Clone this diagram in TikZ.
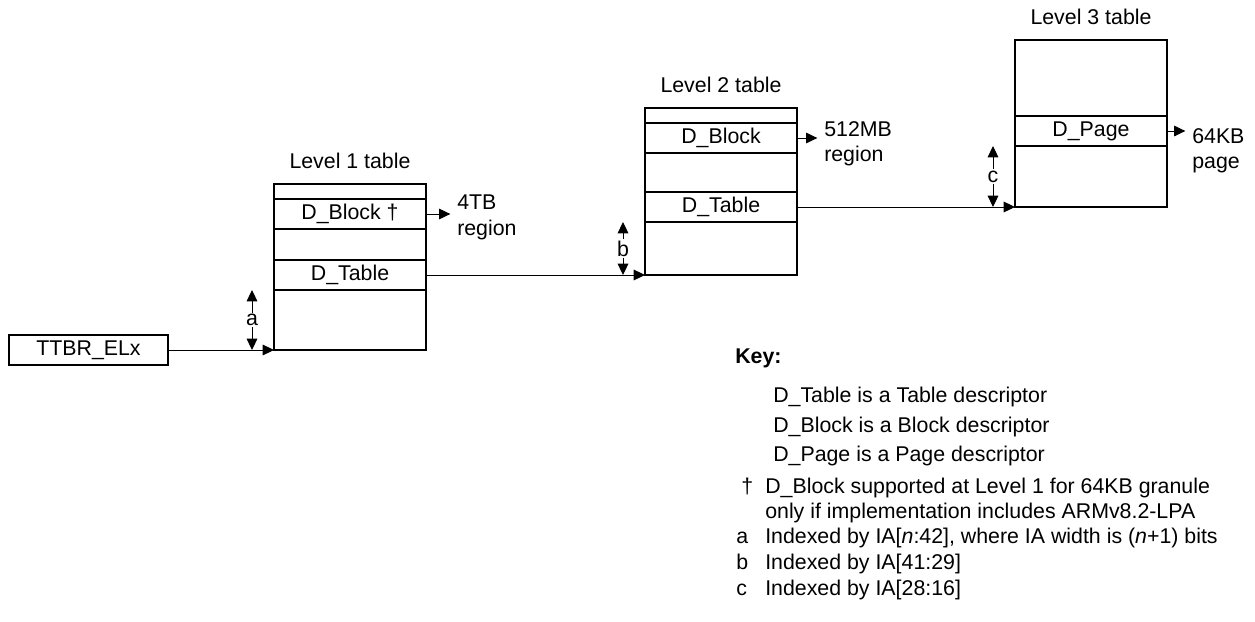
\documentclass[tikz,border=0pt]{standalone}
\usepackage{fontspec}
\setmainfont{Liberation Sans}
\usetikzlibrary{arrows.meta,positioning}

\begin{document}
\begin{tikzpicture}[
  x=0.75pt, y=-0.75pt,
  >={Triangle[length=8.5pt,width=8pt]},
  every node/.style={font=\fontsize{16}{19}\selectfont},
  cell/.style={draw,line width=0.9pt,minimum width={152*0.75pt},minimum height={#1*0.75pt},inner sep=0pt,outer sep=0pt,anchor=north west},
  lbl/.style={anchor=base},
  reg/.style={align=left,anchor=north west,inner sep=0pt,font=\fontsize{16}{19.3}\selectfont},
  idx/.style={inner sep=1pt},
  keyl/.style={anchor=base west,inner sep=0pt},
  wire/.style={line width=0.75pt}
]
\useasboundingbox (0,0) rectangle (1255,621);

% translation table base register
\node[draw,line width=0.9pt,outer sep=0pt,minimum width={159*0.75pt},minimum height={30*0.75pt}] (ttbr) at (88.5,350) {TTBR\_ELx};

% level 1 table
\node[lbl] (lv1) at (350,168) {Level 1 table};
\node[cell=15] (l1top) at (274,184) {};
\node[cell=30] (l1blk) at (l1top.south west) {D\_Block †};
\node[cell=31] (l1gap) at (l1blk.south west) {};
\node[cell=30] (l1tab) at (l1gap.south west) {D\_Table};
\node[cell=60] (l1bot) at (l1tab.south west) {};
\node[reg] (r1) at (457,195) {4TB\\region};

% level 2 table
\node[lbl] (lv2) at (721,92) {Level 2 table};
\node[cell=15] (l2top) at (645,108) {};
\node[cell=30] (l2blk) at (l2top.south west) {D\_Block};
\node[cell=39] (l2gap) at (l2blk.south west) {};
\node[cell=30] (l2tab) at (l2gap.south west) {D\_Table};
\node[cell=53] (l2bot) at (l2tab.south west) {};
\node[reg] (r2) at (824,121) {512MB\\region};

% level 3 table
\node[lbl] (lv3) at (1091,24) {Level 3 table};
\node[cell=76] (l3top) at (1015,40) {};
\node[cell=30] (l3pg) at (l3top.south west) {D\_Page};
\node[cell=61] (l3bot) at (l3pg.south west) {};
\node[reg] (r3) at (1192,128) {64KB\\page};

% walk between the levels
\draw[wire,->] (ttbr.east) -- (l1bot.south west);
\draw[wire,->] (l1tab.east) -- (l2bot.south west);
\draw[wire,->] (l2tab.east) -- (l3bot.south west);

% output regions
\draw[wire,->,shorten >=5pt] (l1blk.east) -- (l1blk.east -| r1.west);
\draw[wire,->,shorten >=5pt] (l2blk.east) -- (l2blk.east -| r2.west);
\draw[wire,->,shorten >=5pt] (l3pg.east) -- (l3pg.east -| r3.west);

% index ranges a, b, c
\node[idx] (ia) at (252,320) {a};
\draw[wire,->] (ia.north) -- (ia.north |- l1tab.south);
\draw[wire,->] (ia.south) -- (ia.south |- l1bot.south);
\node[idx] (ib) at (623,248.5) {b};
\draw[wire,->] (ib.north) -- (ib.north |- l2tab.south);
\draw[wire,->] (ib.south) -- (ib.south |- l2bot.south);
\node[idx] (ic) at (993,176.5) {c};
\draw[wire,->] (ic.north) -- (ic.north |- l3pg.south);
\draw[wire,->] (ic.south) -- (ic.south |- l3bot.south);

% key
\node[keyl,font=\fontsize{16}{19}\selectfont\bfseries] (key) at (735,363) {Key:};
\node[keyl] (k1) at (773,402) {D\_Table is a Table descriptor};
\node[keyl] (k2) at (773,432) {D\_Block is a Block descriptor};
\node[keyl] (k3) at (773,461) {D\_Page is a Page descriptor};
\node[keyl] (m0) at (741,493) {†};
\node[keyl] (k4) at (765,493) {D\_Block supported at Level 1 for 64KB granule};
\node[keyl] (k5) at (765,518) {only if implementation includes ARMv8.2-LPA};
\node[keyl] (ma) at (736,543) {a};
\node[keyl] (k6) at (765,543) {Indexed by IA[\textit{n}:42], where IA width is (\textit{n}+1) bits};
\node[keyl] (mb) at (736,569) {b};
\node[keyl] (k7) at (765,569) {Indexed by IA[41:29]};
\node[keyl] (mc) at (736,595) {c};
\node[keyl] (k8) at (765,595) {Indexed by IA[28:16]};

\end{tikzpicture}
\end{document}
